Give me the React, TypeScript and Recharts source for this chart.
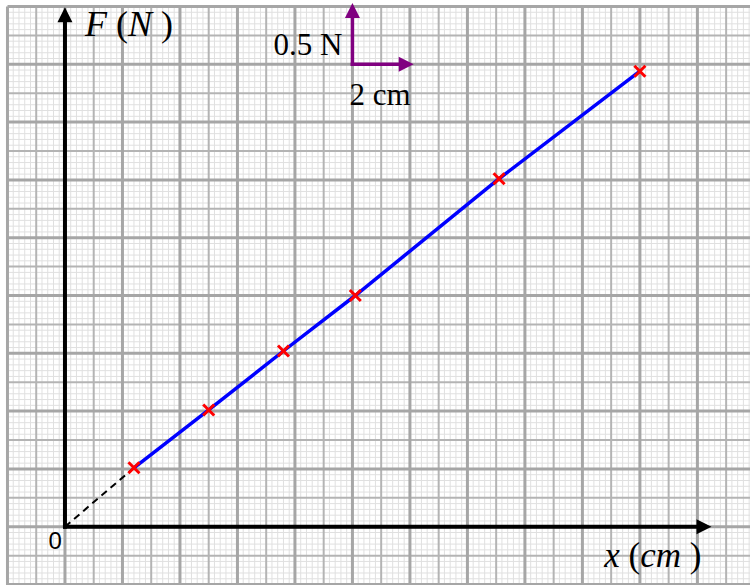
import React from 'react';
import { ComposedChart, Line, XAxis, YAxis, ReferenceLine, ReferenceDot } from 'recharts';

// readings taken off the graph: extension x (cm) and force F (N)
const extension = [2.4, 5.0, 7.6, 10.1, 15.1, 20.0];
const force = [0.51, 1.01, 1.52, 2.0, 3.01, 3.94];

// scale key: 2 cm across, 0.5 N up
const scaleX = [10, 12.13];
const scaleY = [4, 4.53];

const points = extension.map((x, i) => ({ x, y: force[i] }));
const extrapolated = [{ x: 0, y: 0 }, points[0]];

const X_DOMAIN: [number, number] = [-2.26, 23.83];
const Y_DOMAIN: [number, number] = [-0.504, 4.556];
const X_AXIS_END = 22.49;
const Y_AXIS_END = 4.493;

// graph paper: 10 small squares per big square (2 cm / 0.5 N)
const xSteps: number[] = [];
for (let i = -10; i <= 119; i++) xSteps.push(i);
const ySteps: number[] = [];
for (let i = -10; i <= 90; i++) ySteps.push(i);

const level = (i: number) => (i % 10 === 0 ? 2 : i % 5 === 0 ? 1 : 0);
const gridStyle = [
  { stroke: '#e0e0e0', strokeWidth: 1 },
  { stroke: '#b4b4b4', strokeWidth: 2 },
  { stroke: '#a6a6a6', strokeWidth: 3 },
];

const arrow = (color: string, width: number, head: number) => (props: any) => {
  const { x1, y1, x2, y2 } = props;
  const dx = x2 - x1;
  const dy = y2 - y1;
  const len = Math.hypot(dx, dy) || 1;
  const ux = dx / len;
  const uy = dy / len;
  const bx = x2 - ux * head;
  const by = y2 - uy * head;
  const px = (-uy * head) / 2;
  const py = (ux * head) / 2;
  return (
    <g>
      <line x1={x1} y1={y1} x2={bx} y2={by} stroke={color} strokeWidth={width} strokeLinecap="square" />
      <polygon points={`${x2},${y2} ${bx + px},${by + py} ${bx - px},${by - py}`} fill={color} />
    </g>
  );
};

const Cross = (props: any) => {
  const { cx, cy, index } = props;
  const s = 5.5;
  return (
    <g key={`cross-${index}`}>
      <line x1={cx - s} y1={cy - s} x2={cx + s} y2={cy + s} stroke="#ff0000" strokeWidth={3} />
      <line x1={cx - s} y1={cy + s} x2={cx + s} y2={cy - s} stroke="#ff0000" strokeWidth={3} />
    </g>
  );
};

const serif = '"Liberation Serif", "Times New Roman", serif';

const label = (content: React.ReactNode, dx: number, dy: number, size: number, anchor: string, family = serif) =>
  (p: any) => (
    <text x={p.cx + dx} y={p.cy + dy} fontSize={size} fontFamily={family} textAnchor={anchor} fill="#000">
      {content}
    </text>
  );

function App() {
  const gridLines = [0, 1, 2].flatMap((lvl) => [
    ...xSteps
      .filter((i) => level(i) === lvl)
      .map((i) => (
        <ReferenceLine
          key={`v${i}`}
          segment={[{ x: i * 0.2, y: Y_DOMAIN[0] }, { x: i * 0.2, y: 4.5 }]}
          {...gridStyle[lvl]}
          ifOverflow="visible"
          zIndex={-300 + lvl}
        />
      )),
    ...ySteps
      .filter((i) => level(i) === lvl)
      .map((i) => (
        <ReferenceLine
          key={`h${i}`}
          segment={[{ x: -2, y: i * 0.05 }, { x: X_DOMAIN[1], y: i * 0.05 }]}
          {...gridStyle[lvl]}
          ifOverflow="visible"
          zIndex={-300 + lvl}
        />
      )),
  ]);

  return (
    <div style={{ position: 'absolute', left: 0, top: 0, background: '#fff' }}>
      <ComposedChart width={750} height={585} margin={{ top: 0, right: 0, bottom: 0, left: 0 }}>
        <XAxis type="number" dataKey="x" domain={X_DOMAIN} allowDataOverflow hide />
        <YAxis type="number" dataKey="y" domain={Y_DOMAIN} allowDataOverflow hide />
        {gridLines}

        <ReferenceLine
          segment={[{ x: 0, y: 0 }, { x: X_AXIS_END, y: 0 }]}
          shape={arrow('#000', 4, 15)}
          ifOverflow="visible"
          zIndex={100}
        />
        <ReferenceLine
          segment={[{ x: 0, y: 0 }, { x: 0, y: Y_AXIS_END }]}
          shape={arrow('#000', 4, 15)}
          ifOverflow="visible"
          zIndex={100}
        />
        <ReferenceLine
          segment={[{ x: scaleX[0], y: scaleY[0] }, { x: scaleX[0], y: scaleY[1] }]}
          shape={arrow('#800080', 3.5, 15)}
          ifOverflow="visible"
          zIndex={100}
        />
        <ReferenceLine
          segment={[{ x: scaleX[0], y: scaleY[0] }, { x: scaleX[1], y: scaleY[0] }]}
          shape={arrow('#800080', 3.5, 15)}
          ifOverflow="visible"
          zIndex={100}
        />

        <Line
          data={extrapolated}
          dataKey="y"
          type="linear"
          stroke="#000"
          strokeWidth={2}
          strokeDasharray="7 5"
          dot={false}
          activeDot={false}
          isAnimationActive={false}
        />
        <Line
          data={points}
          dataKey="y"
          type="linear"
          stroke="#0000ff"
          strokeWidth={3.5}
          dot={Cross}
          activeDot={false}
          isAnimationActive={false}
        />

        <ReferenceDot
          x={0}
          y={Y_AXIS_END}
          r={0}
          ifOverflow="visible"
          zIndex={2000}
          shape={label(
            <>
              <tspan fontStyle="italic">F</tspan> (<tspan fontStyle="italic">N</tspan> )
            </>,
            20, 29, 36, 'start'
          )}
        />
        <ReferenceDot
          x={X_AXIS_END}
          y={0}
          r={0}
          ifOverflow="visible"
          zIndex={2000}
          shape={label(
            <>
              <tspan fontStyle="italic">x</tspan> (<tspan fontStyle="italic">cm</tspan> )
            </>,
            -10, 40, 35, 'end'
          )}
        />
        <ReferenceDot
          x={0}
          y={0}
          r={0}
          ifOverflow="visible"
          zIndex={2000}
          shape={label('0', -3, 22, 24, 'end', '"Liberation Sans", Arial, sans-serif')}
        />
        <ReferenceDot
          x={scaleX[0]}
          y={scaleY[0]}
          r={0}
          ifOverflow="visible"
          zIndex={2000}
          shape={label('0.5 N', -10, -9, 31, 'end')}
        />
        <ReferenceDot
          x={scaleX[0]}
          y={scaleY[0]}
          r={0}
          ifOverflow="visible"
          zIndex={2000}
          shape={label('2 cm', -3, 41, 31, 'start')}
        />
      </ComposedChart>
    </div>
  );
}

export default App;
